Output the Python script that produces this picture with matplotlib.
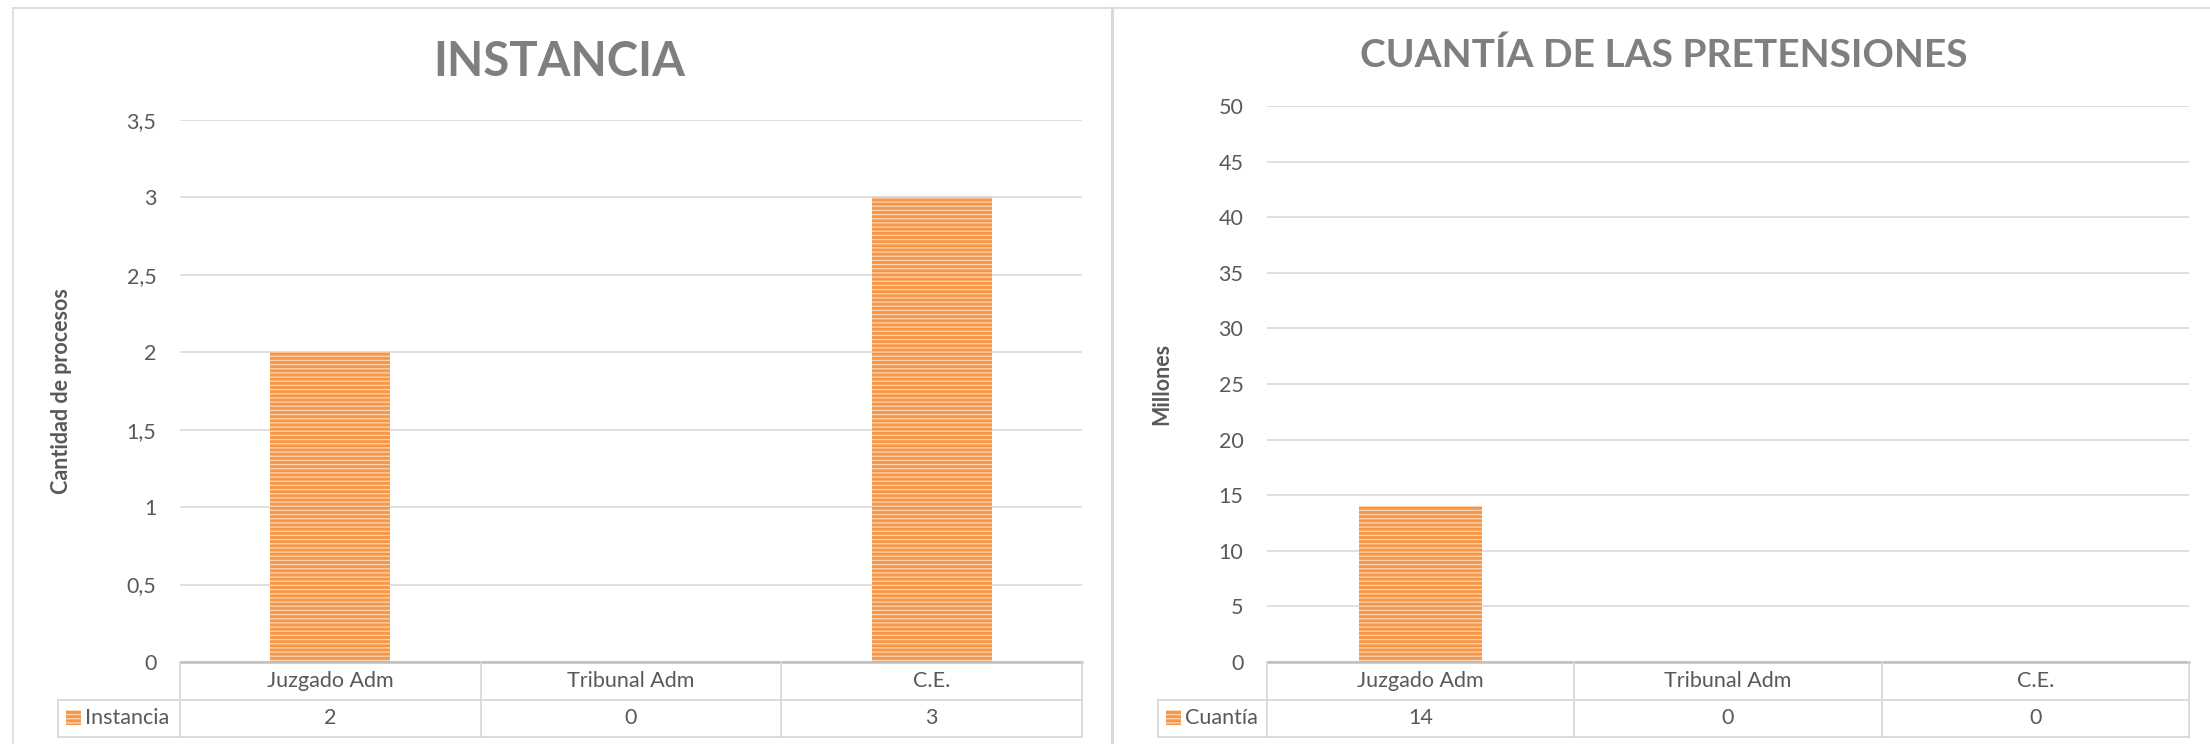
import matplotlib
matplotlib.use('Agg')
import matplotlib.pyplot as plt
from matplotlib.lines import Line2D
from matplotlib.patches import Rectangle
import matplotlib.transforms as mtransforms

# ---------------- data ----------------
categories = ['Juzgado Adm', 'Tribunal Adm', 'C.E.']
instancia_values = [2, 0, 3]
cuantia_values = [14, 0, 0]
instancia_ticks = [0, 0.5, 1, 1.5, 2, 2.5, 3, 3.5]
cuantia_ticks = [0, 5, 10, 15, 20, 25, 30, 35, 40, 45, 50]
instancia_title = 'INSTANCIA'
cuantia_title = 'CUANTÍA DE LAS PRETENSIONES'
instancia_ylabel = 'Cantidad de procesos'
cuantia_ylabel = 'Millones'
instancia_series = 'Instancia'
cuantia_series = 'Cuantía'

# ---------------- style ----------------
W, H, DPI = 2210, 744, 100
plt.rcParams['font.family'] = ['Lato', 'DejaVu Sans']
plt.rcParams['hatch.linewidth'] = 0.9

GRID = '#D9D9D9'
AXIS = '#BFBFBF'
TXT = '#595959'
TITLE = '#7F7F7F'
ORANGE = '#F79646'
STRIPE = '#FCD6B4'
HATCH = '----'
FS = 15.5

fig = plt.figure(figsize=(W / DPI, H / DPI), dpi=DPI)
fig.patch.set_facecolor('white')


def fx(px):
    return px / W


def fy(py):
    return 1 - py / H


def fmt(v):
    return f'{v:g}'.replace('.', ',')


def panel(left_px, right_px, top_px, bottom_px, values, ticks, ymax,
          ylabel, ylabel_x, title, title_x, title_base, title_size,
          series, leg_left):
    ax = fig.add_axes([fx(left_px), fy(bottom_px),
                       (right_px - left_px) / W, (bottom_px - top_px) / H])
    x = list(range(len(categories)))
    ax.bar(x, values, width=0.4, color=ORANGE, edgecolor=STRIPE,
           linewidth=0, hatch=HATCH, zorder=3)
    ax.set_xlim(-0.5, len(categories) - 0.5)
    ax.set_ylim(0, ymax)
    ax.set_yticks(ticks)
    ax.set_yticklabels([fmt(t) for t in ticks])
    ax.tick_params(axis='y', length=0, pad=17, labelsize=FS, labelcolor=TXT)
    ax.set_xticks([])
    ax.grid(axis='y', color=GRID, lw=1.2, zorder=0)
    ax.set_axisbelow(True)
    for s in ['left', 'right', 'top']:
        ax.spines[s].set_visible(False)
    ax.spines['bottom'].set_color(AXIS)
    ax.spines['bottom'].set_linewidth(1.8)
    ax.spines['bottom'].set_zorder(4)

    # title and y label
    fig.text(fx(title_x), fy(title_base), title, fontsize=title_size,
             fontweight='bold', color=TITLE, ha='center', va='baseline')
    fig.text(fx(ylabel_x), fy((top_px + bottom_px) / 2), ylabel, fontsize=FS,
             fontweight='bold', color=TXT, rotation=90,
             ha='center', va='center')

    # data table
    row1_top, row_mid, row_bot = bottom_px, 700, 737
    bl = mtransforms.blended_transform_factory(ax.transData, fig.transFigure)
    bounds = [i - 0.5 for i in range(len(categories) + 1)]
    lkw = dict(color=GRID, lw=1.3, clip_on=False)
    for b in bounds:
        fig.add_artist(Line2D([b, b], [fy(row1_top), fy(row_bot)],
                              transform=bl, **lkw))
    for yy in (row_mid, row_bot):
        fig.add_artist(Line2D([fx(leg_left), fx(right_px)], [fy(yy), fy(yy)],
                              transform=fig.transFigure, **lkw))
    fig.add_artist(Line2D([fx(leg_left), fx(leg_left)],
                          [fy(row_mid), fy(row_bot)],
                          transform=fig.transFigure, **lkw))
    for i, (c, v) in enumerate(zip(categories, values)):
        fig.text(i, fy((row1_top + row_mid) / 2), c, transform=bl,
                 fontsize=FS, color=TXT, ha='center', va='center')
        fig.text(i, fy((row_mid + row_bot) / 2), fmt(v), transform=bl,
                 fontsize=FS, color=TXT, ha='center', va='center')
    # legend key
    fig.add_artist(Rectangle((fx(leg_left + 8), fy(725)), 15 / W, 15 / H,
                             transform=fig.transFigure, facecolor=ORANGE,
                             edgecolor=STRIPE, linewidth=0, hatch=HATCH))
    fig.text(fx(leg_left + 27), fy((row_mid + row_bot) / 2), series,
             fontsize=FS, color=TXT, ha='left', va='center')
    return ax


panel(180, 1082, 120, 662, instancia_values, instancia_ticks, 3.5,
      instancia_ylabel, 62, instancia_title, 559, 76, 34,
      instancia_series, 58)
panel(1267, 2189, 106, 662, cuantia_values, cuantia_ticks, 50,
      cuantia_ylabel, 1162, cuantia_title, 1664, 67, 28,
      cuantia_series, 1158)

# outer chart borders
bkw = dict(color=GRID, transform=fig.transFigure)
fig.add_artist(Line2D([fx(13), 1], [fy(8), fy(8)], lw=1.2, **bkw))
fig.add_artist(Line2D([fx(13), fx(13)], [fy(8), 0], lw=1.2, **bkw))
fig.add_artist(Line2D([fx(1111.5), fx(1111.5)], [fy(9), 0], lw=2.2, **bkw))

fig.savefig('out.png', dpi=DPI, facecolor='white')
